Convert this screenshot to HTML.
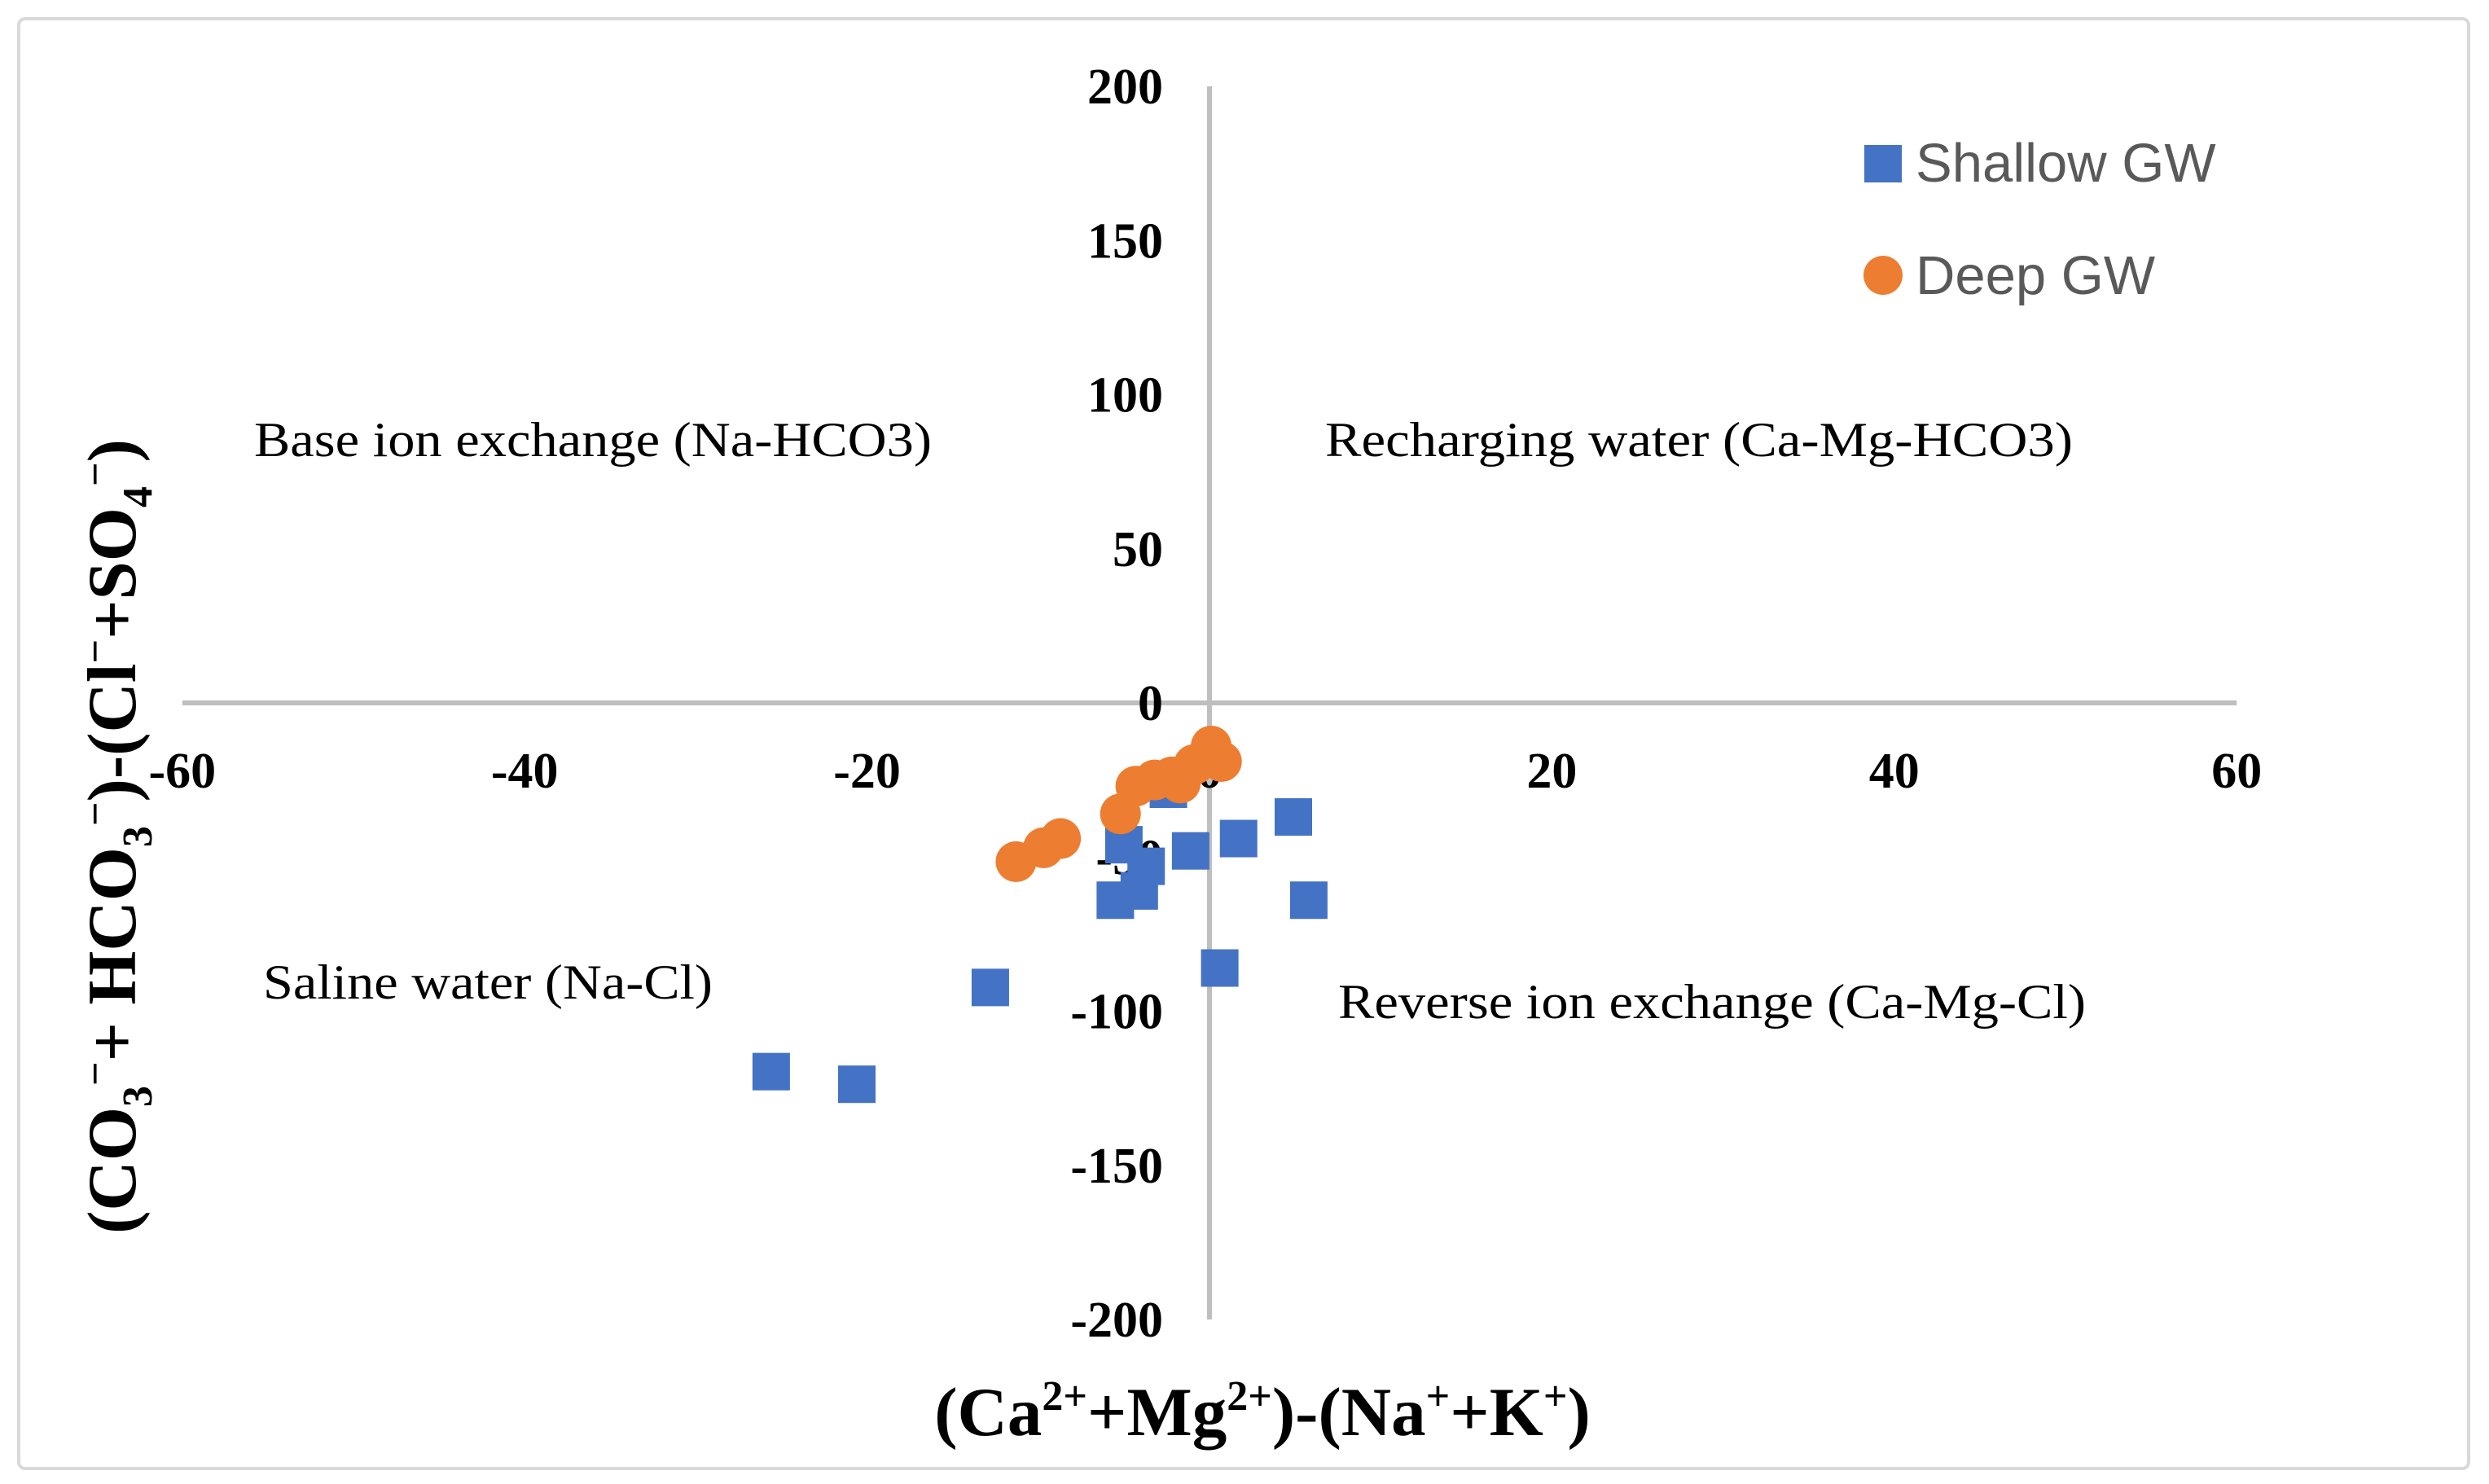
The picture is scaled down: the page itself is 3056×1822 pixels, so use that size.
<!DOCTYPE html>
<html><head><meta charset="utf-8"><style>
html,body{margin:0;padding:0;background:#fff}
svg{display:block}
.tick{font-family:"Liberation Serif",serif;font-weight:bold;font-size:62px;fill:#000}
.quad{font-family:"Liberation Serif",serif;font-size:60px;fill:#000}
.leg{font-family:"Liberation Sans",sans-serif;font-size:67px;fill:#595959}
.title{font-family:"Liberation Serif",serif;font-weight:bold;font-size:85px;fill:#000}
</style></head><body>
<svg id="chart" width="3056" height="1822" viewBox="0 0 3056 1822" xmlns="http://www.w3.org/2000/svg">
<rect x="23" y="23" width="3008" height="1780" rx="8" fill="#fff" stroke="#d9d9d9" stroke-width="4"/>
<g id="axes"></g>
<g id="marks"></g>
<text class="quad" x="312" y="560" textLength="832" lengthAdjust="spacingAndGlyphs">Base ion exchange (Na-HCO3)</text>
<text class="quad" x="1627" y="560" textLength="918" lengthAdjust="spacingAndGlyphs">Recharging water (Ca-Mg-HCO3)</text>
<text class="quad" x="323" y="1226" textLength="552" lengthAdjust="spacingAndGlyphs">Saline water (Na-Cl)</text>
<text class="quad" x="1643" y="1250" textLength="918" lengthAdjust="spacingAndGlyphs">Reverse ion exchange (Ca-Mg-Cl)</text>
<g>
<rect x="2289" y="178" width="46" height="46" fill="#4472c4"/>
<text class="leg" x="2352" y="223">Shallow GW</text>
<circle cx="2312" cy="338" r="24" fill="#ed7d31"/>
<text class="leg" x="2352" y="361">Deep GW</text>
</g>
<text class="title" x="1550" y="1762" text-anchor="middle">(Ca<tspan font-size="52" dy="-31">2+</tspan><tspan dy="31">+Mg</tspan><tspan font-size="52" dy="-31">2+</tspan><tspan dy="31">)-(Na</tspan><tspan font-size="52" dy="-31">+</tspan><tspan dy="31">+K</tspan><tspan font-size="52" dy="-31">+</tspan><tspan dy="31">)</tspan></text>
<text class="title" transform="translate(166,1027) rotate(-90)" text-anchor="middle">(CO<tspan font-size="52" dy="20">3</tspan><tspan font-size="52" dy="-52">−</tspan><tspan dy="32">+ HCO</tspan><tspan font-size="52" dy="20">3</tspan><tspan font-size="52" dy="-52">−</tspan><tspan dy="32">)-(Cl</tspan><tspan font-size="52" dy="-32">−</tspan><tspan dy="32">+SO</tspan><tspan font-size="52" dy="20">4</tspan><tspan font-size="52" dy="-52">−</tspan><tspan dy="32">)</tspan></text>
</svg>
<script>
const xTicks = [-60, -40, -20, 0, 20, 40, 60];
const yTicks = [200, 150, 100, 50, 0, -50, -100, -150, -200];
const shallowX = [-25.6, -20.6, -12.8, -5.5, -4.1, -5.0, -3.7, -2.4, -1.1, 1.7, 4.9, 5.8, 0.6];
const shallowY = [-119.6, -123.7, -92.3, -64, -61, -46, -53, -28, -48, -44, -37, -64, -86];
const deepX = [-11.3, -9.7, -8.7, -5.2, -4.3, -3.2, -2.2, -1.7, -0.9, 0.1, 0.7];
const deepY = [-51.5, -47, -44, -36, -27, -25, -24, -26, -20, -14, -19];

const NS = "http://www.w3.org/2000/svg";
const X0 = 1485, XS = 21.02, Y0 = 863, YS = 3.785;
const sx = v => X0 + v * XS;
const sy = v => Y0 - v * YS;
const axes = document.getElementById('axes');
const marks = document.getElementById('marks');
function mk(tag, attrs, parent) {
  const e = document.createElementNS(NS, tag);
  for (const k in attrs) e.setAttribute(k, attrs[k]);
  parent.appendChild(e);
  return e;
}
const xl = mk('line', {x1: sx(-60), x2: sx(60), y1: sy(0), y2: sy(0), stroke: '#bfbfbf', 'stroke-width': 6}, axes);


const yl = mk('line', {x1: sx(0), x2: sx(0), y1: sy(200), y2: sy(-200), stroke: '#bfbfbf', 'stroke-width': 6}, axes);


xTicks.forEach(v => {
  const t = mk('text', {x: sx(v), y: 967, 'text-anchor': 'middle', class: 'tick'}, axes);
  t.textContent = String(v);
  
  
});
yTicks.forEach(v => {
  const t = mk('text', {x: 1428, y: sy(v) + 21, 'text-anchor': 'end', class: 'tick'}, axes);
  t.textContent = String(v);
  
  
});
shallowX.forEach((v, i) => {
  const r = mk('rect', {x: sx(v) - 23, y: sy(shallowY[i]) - 23, width: 46, height: 46, fill: '#4472c4'}, marks);
  
  
});
deepX.forEach((v, i) => {
  const c = mk('circle', {cx: sx(v), cy: sy(deepY[i]), r: 25, fill: '#ed7d31'}, marks);
  
  
});
</script>
</body></html>
